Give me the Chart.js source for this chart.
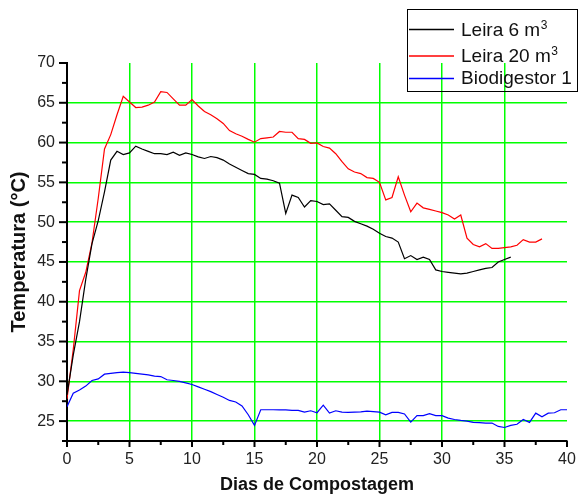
<!DOCTYPE html>
<html>
<head>
<meta charset="utf-8">
<script src="https://cdn.jsdelivr.net/npm/chart.js@4.4.1/dist/chart.umd.min.js"></script>
<style>
  html, body { margin: 0; padding: 0; background: #ffffff; }
  #wrap { width: 580px; height: 496px; position: relative; }
</style>
</head>
<body>
<div id="wrap"><canvas id="grafico" width="580" height="496"></canvas></div>
<script>
// Dias de compostagem (medições a cada meio dia)
const dias = [0, 0.5, 1, 1.5, 2, 2.5, 3, 3.5, 4, 4.5, 5, 5.5, 6, 6.5, 7, 7.5, 8, 8.5, 9, 9.5,
  10, 10.5, 11, 11.5, 12, 12.5, 13, 13.5, 14, 14.5, 15, 15.5, 16, 16.5, 17, 17.5, 18, 18.5, 19, 19.5,
  20, 20.5, 21, 21.5, 22, 22.5, 23, 23.5, 24, 24.5, 25, 25.5, 26, 26.5, 27, 27.5, 28, 28.5, 29, 29.5,
  30, 30.5, 31, 31.5, 32, 32.5, 33, 33.5, 34, 34.5, 35, 35.5, 36, 36.5, 37, 37.5, 38, 38.5, 39, 39.5, 40];

// Temperatura (°C) — Leira 6 m³
const tempLeira6 = [28.3, 33.3, 37.5, 42.8, 47.3, 50.2, 53.8, 57.8, 58.9, 58.5, 58.7, 59.55, 59.2, 58.9, 58.6, 58.6, 58.5, 58.8, 58.4, 58.7,
  58.5, 58.2, 58.0, 58.25, 58.1, 57.8, 57.3, 56.9, 56.5, 56.1, 56.0, 55.5, 55.4, 55.2, 54.9, 51.1, 53.4, 53.1, 51.9, 52.7,
  52.6, 52.2, 52.3, 51.5, 50.7, 50.6, 50.1, 49.8, 49.5, 49.1, 48.6, 48.2, 48.0, 47.5, 45.4, 45.8, 45.3, 45.6, 45.3, 44.0,
  43.8, 43.7, 43.6, 43.5, 43.6, 43.8, 44.0, 44.2, 44.3, 45.0, 45.3, 45.6];

// Temperatura (°C) — Leira 20 m³
const tempLeira20 = [27.8, 34.0, 41.4, 43.7, 47.4, 53.0, 59.2, 61.0, 63.5, 65.8, 65.1, 64.4, 64.45, 64.7, 65.1, 66.4, 66.3, 65.5, 64.7, 64.7,
  65.4, 64.6, 63.9, 63.5, 63.0, 62.4, 61.5, 61.1, 60.8, 60.4, 60.05, 60.5, 60.6, 60.7, 61.4, 61.3, 61.3, 60.5, 60.4, 59.9,
  59.95, 59.5, 59.3, 58.6, 57.6, 56.7, 56.3, 56.1, 55.6, 55.5, 55.0, 52.8, 53.1, 55.7, 53.4, 51.3, 52.4, 51.8, 51.6, 51.4,
  51.2, 50.9, 50.4, 50.9, 48.0, 47.2, 46.9, 47.3, 46.7, 46.7, 46.8, 46.9, 47.1, 47.8, 47.5, 47.5, 47.9];

// Temperatura (°C) — Biodigestor 1
const tempBiodigestor = [26.8, 28.5, 28.9, 29.4, 30.1, 30.3, 30.9, 31.0, 31.1, 31.15, 31.1, 31.0, 30.9, 30.8, 30.65, 30.6, 30.2, 30.1, 30.0, 29.8,
  29.6, 29.3, 29.0, 28.7, 28.35, 28.0, 27.6, 27.4, 26.9, 25.8, 24.46, 26.43, 26.43, 26.43, 26.4, 26.4, 26.35, 26.35, 26.13, 26.3,
  26.05, 27.0, 26.0, 26.3, 26.13, 26.1, 26.13, 26.15, 26.26, 26.2, 26.13, 25.8, 26.1, 26.1, 25.9, 24.88, 25.7, 25.7, 25.93, 25.7,
  25.68, 25.38, 25.2, 25.09, 25.0, 24.84, 24.8, 24.75, 24.75, 24.33, 24.2, 24.46, 24.6, 25.2, 24.84, 26.0, 25.55, 26.0, 26.05, 26.43, 26.43];

const nomesSeries = ['Leira 6 m³', 'Leira 20 m³', 'Biodigestor 1'];
const coresSeries = ['#000000', '#ff0000', '#0000ff'];

const FONTE = "'Liberation Sans', Arial, Helvetica, sans-serif";
const VERDE = '#00ff00';

function pares(valores) {
  return valores.map((v, i) => ({ x: dias[i], y: v }));
}

function multiploDe5(v) {
  return Math.abs(v / 5 - Math.round(v / 5)) < 1e-6;
}

// Marcas de escala (principais e secundárias) voltadas para fora dos eixos
const marcasEixos = {
  id: 'marcasEixos',
  afterDraw(chart) {
    const { ctx, scales: { x, y } } = chart;
    ctx.save();
    ctx.strokeStyle = '#000';
    ctx.lineWidth = 2;
    const base = y.getPixelForValue(y.min);
    x.ticks.forEach(t => {
      const px = x.getPixelForValue(t.value);
      const len = multiploDe5(t.value) ? 6 : 4;
      ctx.beginPath();
      ctx.moveTo(px, base);
      ctx.lineTo(px, base + len);
      ctx.stroke();
    });
    const esq = x.getPixelForValue(x.min);
    y.ticks.forEach(t => {
      const py = y.getPixelForValue(t.value);
      const len = multiploDe5(t.value) ? 8 : 5;
      ctx.beginPath();
      ctx.moveTo(esq, py);
      ctx.lineTo(esq - len, py);
      ctx.stroke();
    });
    ctx.restore();
  }
};

// Legenda em caixa, com expoente no "m³"
const legendaCaixa = {
  id: 'legendaCaixa',
  afterDraw(chart) {
    const { ctx } = chart;
    const box = { x: 407.5, y: 9.5, w: 170, h: 82 };
    const linhasY = [29.5, 56, 78.5];
    const basesTexto = [36, 62, 84];
    ctx.save();
    ctx.strokeStyle = '#000';
    ctx.lineWidth = 1;
    ctx.strokeRect(box.x, box.y, box.w, box.h);
    chart.data.datasets.forEach((ds, i) => {
      ctx.strokeStyle = ds.borderColor;
      ctx.lineWidth = 1.5;
      ctx.beginPath();
      ctx.moveTo(409, linhasY[i]);
      ctx.lineTo(454, linhasY[i]);
      ctx.stroke();

      ctx.fillStyle = '#111';
      ctx.textBaseline = 'alphabetic';
      ctx.textAlign = 'left';
      ctx.font = '19px ' + FONTE;
      const partes = ds.label.split('³');
      let tx = 461;
      ctx.fillText(partes[0], tx, basesTexto[i]);
      if (partes.length > 1) {
        tx += ctx.measureText(partes[0]).width;
        ctx.font = '12px ' + FONTE;
        ctx.fillText('3', tx + 0.5, basesTexto[i] - 7);
      }
    });
    ctx.restore();
  }
};

new Chart(document.getElementById('grafico'), {
  type: 'line',
  data: {
    datasets: [
      { label: nomesSeries[0], data: pares(tempLeira6), borderColor: coresSeries[0] },
      { label: nomesSeries[1], data: pares(tempLeira20), borderColor: coresSeries[1] },
      { label: nomesSeries[2], data: pares(tempBiodigestor), borderColor: coresSeries[2] }
    ]
  },
  options: {
    responsive: false,
    animation: false,
    devicePixelRatio: 1,
    layout: { padding: { top: 63, right: 13, left: 0, bottom: 0 } },
    elements: {
      line: { borderWidth: 1.2, tension: 0, fill: false },
      point: { radius: 0, hoverRadius: 0 }
    },
    plugins: {
      legend: { display: false },
      tooltip: { enabled: false }
    },
    scales: {
      x: {
        type: 'linear',
        min: 0,
        max: 40,
        afterFit(scale) {
          scale.height = 55;
          scale.paddingLeft = 0;
          scale.paddingRight = 0;
        },
        ticks: {
          stepSize: 2.5,
          autoSkip: false,
          maxRotation: 0,
          padding: 9,
          color: '#222',
          font: { family: FONTE, size: 16 },
          callback: v => (multiploDe5(v) ? String(v) : '')
        },
        grid: {
          drawTicks: false,
          lineWidth: 1.5,
          color: c => (c.tick && multiploDe5(c.tick.value) && c.tick.value > 0 && c.tick.value < 40) ? VERDE : 'rgba(0,0,0,0)'
        },
        border: { display: true, color: '#000', width: 2 },
        title: {
          display: true,
          text: 'Dias de Compostagem',
          color: '#111',
          font: { family: FONTE, size: 18, weight: 'bold' },
          padding: { top: 0, bottom: 0 }
        }
      },
      y: {
        type: 'linear',
        min: 22.5,
        max: 70,
        afterFit(scale) {
          scale.width = 67;
          scale.paddingTop = 0;
          scale.paddingBottom = 0;
        },
        ticks: {
          stepSize: 2.5,
          autoSkip: false,
          padding: 12,
          color: '#222',
          font: { family: FONTE, size: 16 },
          callback: v => (multiploDe5(v) ? String(v) : '')
        },
        grid: {
          drawTicks: false,
          lineWidth: 1.5,
          color: c => (c.tick && multiploDe5(c.tick.value) && c.tick.value > 22.5 && c.tick.value < 70) ? VERDE : 'rgba(0,0,0,0)'
        },
        border: { display: true, color: '#000', width: 2 },
        title: {
          display: true,
          text: 'Temperatura (°C)',
          color: '#111',
          font: { family: FONTE, size: 20, weight: 'bold' },
          padding: { top: 7, bottom: 0 }
        }
      }
    }
  },
  plugins: [marcasEixos, legendaCaixa]
});
</script>
</body>
</html>
